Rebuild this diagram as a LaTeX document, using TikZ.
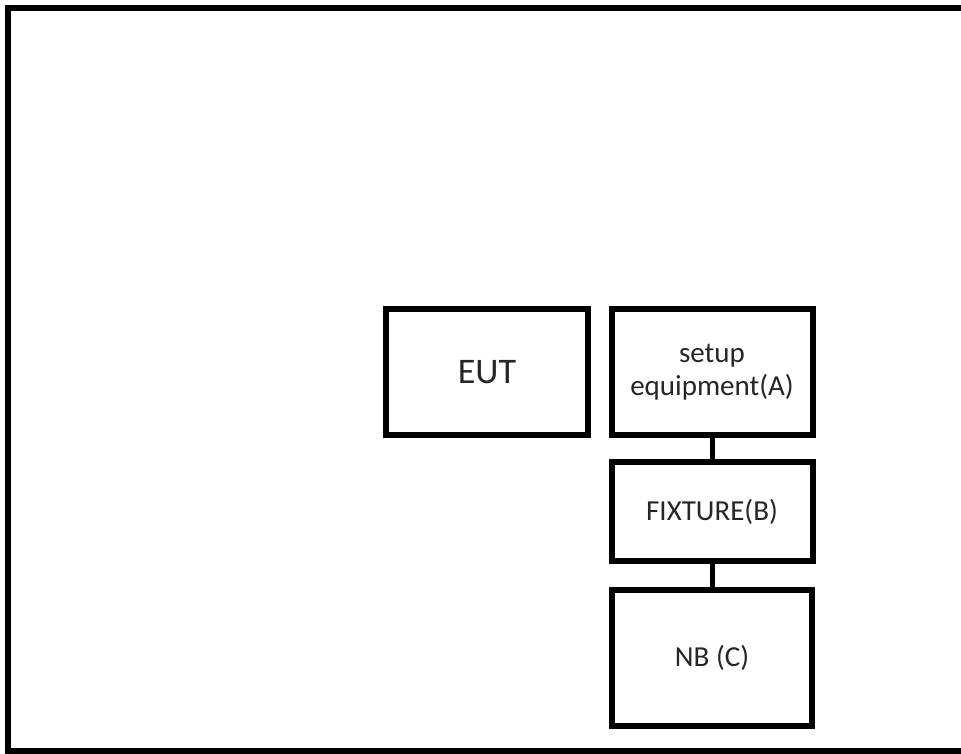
\documentclass[tikz,border=0pt]{standalone}
\usepackage{fontspec}
\setmainfont{Carlito}
\begin{document}
\begin{tikzpicture}[x=1pt,y=-1pt,
  box/.style={draw=black, line width=6pt, rectangle, inner sep=0pt, outer sep=0pt,
    text=black!85, align=center},
  smalltext/.style={font=\fontsize{29}{33}\selectfont},
  bigtext/.style={font=\fontsize{36}{40}\selectfont},
  link/.style={draw=black, line width=5pt}]
\useasboundingbox (0,0) rectangle (961,753);
\clip (0,0) rectangle (961,753);
\draw[line width=6pt] (8,8) rectangle (975,750.5);
\node[box, bigtext, minimum width=202pt, minimum height=125.5pt] (eut) at (487,371.75) {EUT};
\node[box, smalltext, minimum width=201pt, minimum height=126pt] (a) at (712,372) {setup\\equipment(A)};
\node[box, smalltext, minimum width=201pt, minimum height=99pt] (b) at (712,511.5) {FIXTURE(B)};
\node[box, smalltext, minimum width=200pt, minimum height=135.5pt] (c) at (712,657.75) {NB (C)};
\draw[link] (a.south) -- (b.north);
\draw[link] (b.south) -- (c.north);
\end{tikzpicture}
\end{document}
